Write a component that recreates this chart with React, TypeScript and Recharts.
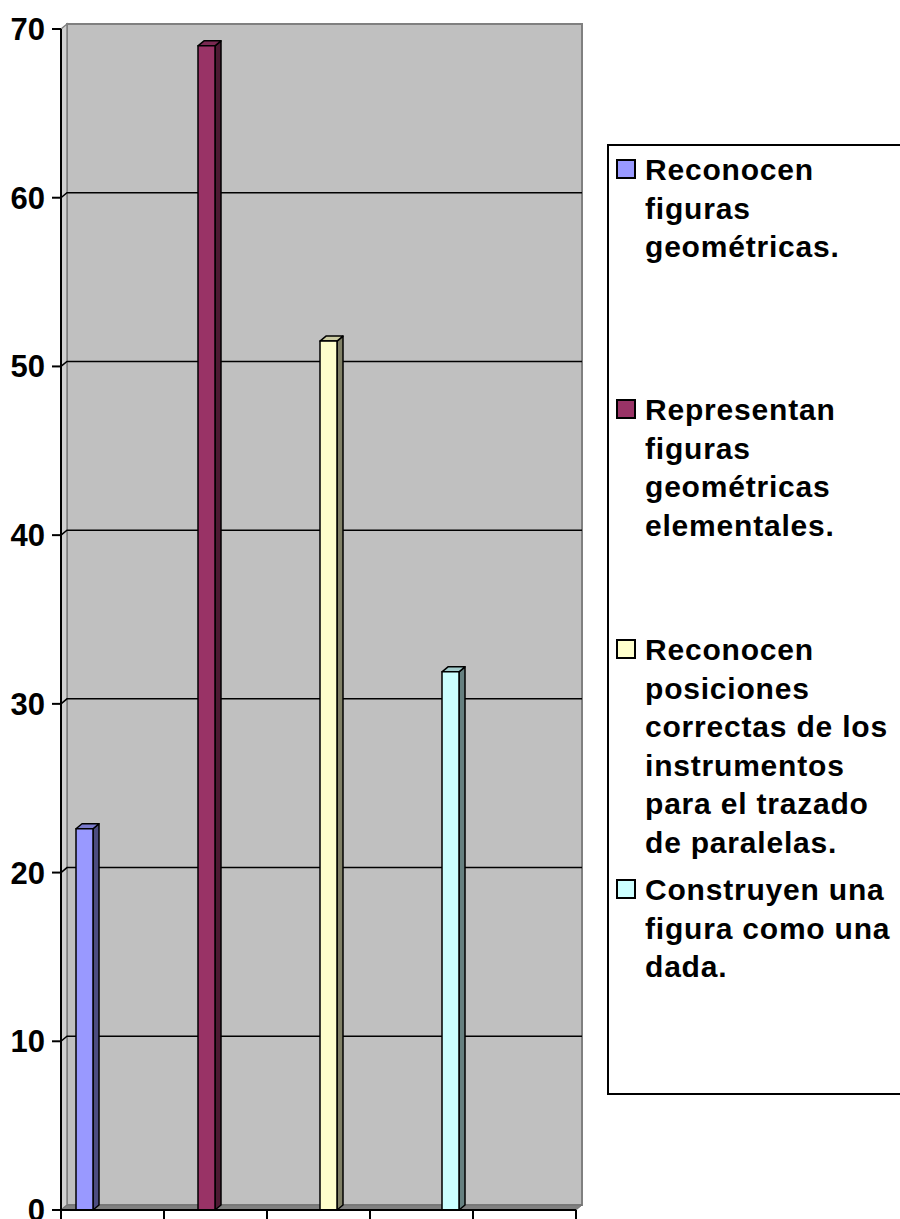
import React from "react";
import { BarChart, Bar, XAxis, YAxis, CartesianGrid, Legend } from "recharts";

// categorías (sin etiqueta visible en el eje)
const categories = ["c1", "c2", "c3", "c4", "c5"];
const seriesNames = [
  "Reconocen\nfiguras\ngeométricas.",
  "Representan\nfiguras\ngeométricas\nelementales.",
  "Reconocen\nposiciones\ncorrectas de los\ninstrumentos\npara el trazado\nde paralelas.",
  "Construyen una\nfigura como una\ndada.",
];
const seriesValues = [22.6, 69, 51.5, 31.9];
const yTicks = [0, 10, 20, 30, 40, 50, 60, 70];

const colors = [
  { front: "#9999FF", top: "#7A7ACC", side: "#4D4D80" },
  { front: "#993366", top: "#7A2952", side: "#4D1A33" },
  { front: "#FFFFCC", top: "#CCCCA3", side: "#808066" },
  { front: "#CCFFFF", top: "#A3CCCC", side: "#668080" },
];

// cada serie tiene valor sólo en su propia categoría
const data = categories.map((cat, i) => {
  const row: any = { cat };
  seriesValues.forEach((v, j) => {
    row["s" + j] = i === j ? v : null;
  });
  return row;
});

const DX = 6;
const DY = 5;
const FONT = "'Liberation Sans', Arial, sans-serif";

const Bar3D = (props: any) => {
  const { x, y, width, height, c } = props;
  if (height == null || !width || height <= 0) return null;
  const b = y + height;
  return (
    <g stroke="#000" strokeWidth={1.5} strokeLinejoin="round">
      <polygon
        points={`${x + width},${y} ${x + width + DX},${y - DY} ${x + width + DX},${b - DY} ${x + width},${b}`}
        fill={c.side}
      />
      <polygon
        points={`${x},${y} ${x + DX},${y - DY} ${x + width + DX},${y - DY} ${x + width},${y}`}
        fill={c.top}
      />
      <rect x={x} y={y} width={width} height={height} fill={c.front} />
    </g>
  );
};

// líneas de división con las paredes 3D dibujadas antes de la primera
const GridLine = (props: any) => {
  const { x1, y1, x2, index, x, y, width, height } = props;
  const top = y;
  const bottom = y + height;
  const walls =
    index === 0 ? (
      <g>
        <rect
          x={x + DX}
          y={top - DY}
          width={width}
          height={height}
          fill="#C0C0C0"
          stroke="#808080"
          strokeWidth={2}
        />
        <polygon
          points={`${x},${top} ${x + DX},${top - DY} ${x + DX},${bottom - DY} ${x},${bottom}`}
          fill="#D0D0D0"
          stroke="#808080"
          strokeWidth={1.5}
        />
        <polygon
          points={`${x},${bottom} ${x + DX},${bottom - DY} ${x + width + DX},${bottom - DY} ${x + width},${bottom}`}
          fill="#808080"
          stroke="#707070"
          strokeWidth={1}
        />
      </g>
    ) : null;
  const edge = Math.abs(y1 - top) < 1 || Math.abs(y1 - bottom) < 1;
  return (
    <g key={"g" + index}>
      {walls}
      {!edge && (
        <path
          d={`M${x1},${y1} L${x1 + DX},${y1 - DY} L${x2 + DX},${y1 - DY}`}
          fill="none"
          stroke="#000"
          strokeWidth={1.5}
        />
      )}
    </g>
  );
};

const XTick = (props: any) => {
  const { x, y, payload, index, visibleTicksCount } = props;
  const half = payload && payload.offset ? payload.offset : 51.5;
  const last = index === (visibleTicksCount ?? categories.length) - 1;
  return (
    <g stroke="#000" strokeWidth={2}>
      <line x1={x - half} y1={y - 9} x2={x - half} y2={y} />
      {last && <line x1={x + half} y1={y - 9} x2={x + half} y2={y} />}
    </g>
  );
};

const LegendBox = (props: any) => {
  // mantener el orden original de las series
  const items = [...(props.payload || [])].sort(
    (a: any, b: any) => seriesNames.indexOf(a.value) - seriesNames.indexOf(b.value)
  );
  return (
    <div
      style={{
        width: 320,
        height: 951,
        border: "2px solid #000",
        boxSizing: "border-box",
        background: "#fff",
        position: "relative",
        fontFamily: FONT,
      }}
    >
      {items.map((p: any, i: number) => (
        <div
          key={i}
          style={{ position: "absolute", left: 0, top: 5 + i * 240, width: 320 }}
        >
          <div
            style={{
              position: "absolute",
              left: 7,
              top: 8,
              width: 20,
              height: 20,
              boxSizing: "border-box",
              border: "2px solid #000",
              background: p.color,
            }}
          />
          <div
            style={{
              position: "absolute",
              left: 36,
              top: 0,
              fontSize: 30,
              fontWeight: "bold",
              lineHeight: "38.5px",
              letterSpacing: 0.8,
              whiteSpace: "pre",
              color: "#000",
            }}
          >
            {p.value}
          </div>
        </div>
      ))}
    </div>
  );
};

export default function App() {
  return (
    <div
      style={{
        position: "absolute",
        left: 0,
        top: 0,
        width: 900,
        height: 1219,
        overflow: "hidden",
        background: "#fff",
      }}
    >
      <BarChart
        width={900}
        height={1219}
        data={data}
        margin={{ top: 29, right: 324, bottom: 0, left: 0 }}
        barCategoryGap={15}
        barGap={2}
      >
        <CartesianGrid vertical={false} horizontal={GridLine as any} />
        <XAxis
          dataKey="cat"
          height={9}
          tickSize={9}
          tickMargin={0}
          tickLine={false}
          axisLine={{ stroke: "#000", strokeWidth: 2 }}
          tick={XTick}
          interval={0}
        />
        <YAxis
          width={61}
          domain={[0, 70]}
          ticks={yTicks}
          interval={0}
          tickSize={9}
          tickMargin={7}
          axisLine={{ stroke: "#000", strokeWidth: 2 }}
          tickLine={{ stroke: "#000", strokeWidth: 2 }}
          tick={{ fontSize: 31, fontWeight: "bold", fill: "#000", fontFamily: FONT }}
        />
        <Legend
          layout="vertical"
          align="center"
          verticalAlign="middle"
          wrapperStyle={{ left: 607, top: 144, width: 320, height: 951 }}
          content={LegendBox}
        />
        {seriesValues.map((_, j) => (
          <Bar
            key={j}
            dataKey={"s" + j}
            name={seriesNames[j]}
            fill={colors[j].front}
            isAnimationActive={false}
            shape={(p: any) => <Bar3D {...p} c={colors[j]} />}
          />
        ))}
      </BarChart>
    </div>
  );
}
